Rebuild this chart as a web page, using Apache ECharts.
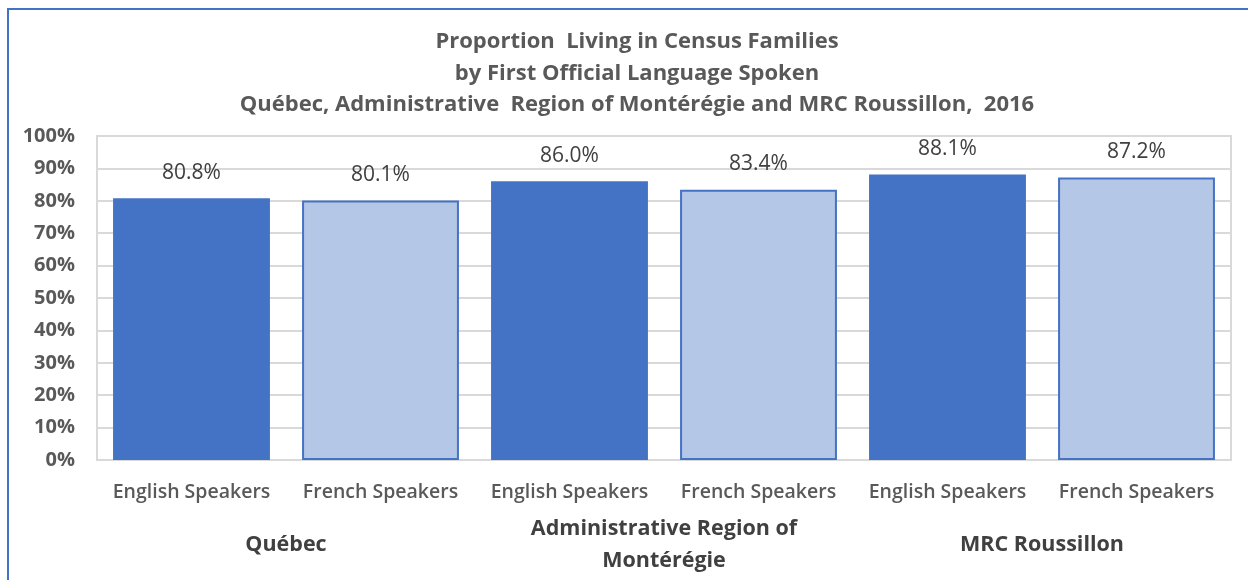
<!DOCTYPE html>
<html>
<head>
<meta charset="utf-8">
<script src="https://cdn.jsdelivr.net/npm/echarts@6/dist/echarts.min.js"></script>
<style>
  html, body { margin: 0; padding: 0; background: #fff; }
  #chart { width: 1248px; height: 580px; }
</style>
</head>
<body>
<div id="chart"></div>
<script>
// Data
const speakerLabels = ["English Speakers", "French Speakers", "English Speakers", "French Speakers", "English Speakers", "French Speakers"];
const regionLabels = ["Québec", "Administrative Region of\nMontérégie", "MRC Roussillon"];
const shareValues = [80.8, 80.1, 86.0, 83.4, 88.1, 87.2];
const yTicks = [0, 10, 20, 30, 40, 50, 60, 70, 80, 90, 100];

const darkBlue = "#4472C4";
const lightBlue = "#B4C7E7";
const fontFam = "'Open Sans', 'Noto Sans', sans-serif";

let chart = echarts.init(document.getElementById("chart"));

// alternate English (dark) / French (light) bars
let barData = shareValues.map((v, i) => ({
  value: v,
  itemStyle: i % 2 == 0
    ? { color: darkBlue, borderWidth: 0 }
    : { color: lightBlue, borderColor: darkBlue, borderWidth: 2 },
}));

let option = {
  backgroundColor: "#fff",
  animation: false,
  title: {
    text: "Proportion  Living in Census Families\nby First Official Language Spoken\nQuébec, Administrative  Region of Montérégie and MRC Roussillon,  2016",
    left: 632,
    top: 21,
    textAlign: "center",
    textStyle: {
      fontFamily: fontFam,
      fontSize: 22,
      fontWeight: "bold",
      color: "#595959",
      lineHeight: 31.5,
    },
  },
  graphic: [
    {
      type: "rect",
      shape: { x: 8, y: 9, width: 1300, height: 700 },
      style: { fill: "none", stroke: darkBlue, lineWidth: 2 },
      silent: true,
    },
  ],
  grid: {
    left: 97,
    right: 17,
    top: 136,
    bottom: 120,
    outerBoundsMode: "none",
    containLabel: false,
    show: true,
    borderColor: "#d9d9d9",
    borderWidth: 2,
  },
  xAxis: [
    {
      type: "category",
      data: speakerLabels,
      axisLine: { show: true, lineStyle: { color: "#d9d9d9", width: 2 } },
      axisTick: { show: false },
      axisLabel: {
        interval: 0,
        margin: 22,
        fontFamily: fontFam,
        fontSize: 19.5,
        fontWeight: 600,
        color: "#595959",
      },
    },
    {
      type: "category",
      data: regionLabels,
      position: "bottom",
      offset: 0,
      axisLine: { show: false },
      axisTick: { show: false },
      axisLabel: {
        interval: 0,
        margin: 85,
        verticalAlign: "middle",
        fontFamily: fontFam,
        fontSize: 21.5,
        fontWeight: "bold",
        color: "#404040",
        lineHeight: 32,
      },
    },
  ],
  yAxis: {
    type: "value",
    min: yTicks[0],
    max: yTicks[yTicks.length - 1],
    interval: 10,
    axisLine: { show: false },
    axisTick: { show: false },
    splitLine: { lineStyle: { color: "#d9d9d9", width: 2 } },
    axisLabel: {
      margin: 22,
      fontFamily: fontFam,
      fontSize: 20,
      fontWeight: "bold",
      color: "#595959",
      formatter: (v) => v + "%",
    },
  },
  series: [
    {
      type: "bar",
      xAxisIndex: 0,
      data: barData,
      barWidth: "83%",
      label: {
        show: true,
        position: "top",
        distance: 15,
        fontFamily: fontFam,
        fontSize: 21,
        color: "#404040",
        formatter: (p) => p.value.toFixed(1) + "%",
      },
    },
  ],
};
chart.setOption(option);
</script>
</body>
</html>
